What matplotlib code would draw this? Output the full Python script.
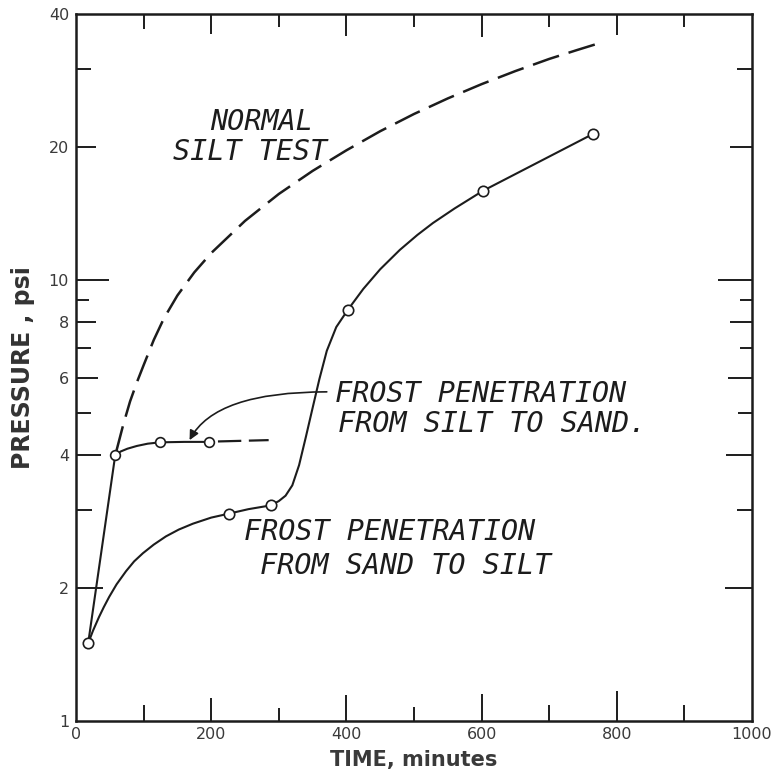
import matplotlib
matplotlib.use("Agg")
import matplotlib.pyplot as plt
from matplotlib.ticker import NullLocator

# --- data ---
# normal silt test (dashed curve)
normal_t = [59, 70, 80, 90, 100, 115, 130, 150, 175, 200, 250, 300, 350, 400, 450, 500, 550, 600, 650, 700, 740, 778]
normal_p = [4.05, 4.7, 5.3, 5.85, 6.4, 7.3, 8.17, 9.21, 10.39, 11.49, 13.59, 15.64, 17.64, 19.64, 21.7, 23.74, 25.75, 27.74, 29.7, 31.64, 33.1, 34.5]

# frost penetration from sand to silt: observations and drawn curve
sand_obs_t = [18, 226, 288, 402, 602, 765]
sand_obs_p = [1.50, 2.95, 3.08, 8.54, 15.9, 21.4]
sand_line_t = [18, 25, 34, 41, 49, 60, 74, 86, 99, 115, 133, 152, 173, 200, 226, 255, 288,
               300, 310, 320, 330, 340, 350, 360, 371, 385, 402,
               425, 450, 479, 505, 528, 560, 602, 765]
sand_line_p = [1.50, 1.60, 1.72, 1.81, 1.91, 2.04, 2.185, 2.30, 2.40, 2.51, 2.62, 2.715, 2.80, 2.89, 2.95, 3.02, 3.08,
               3.15, 3.24, 3.42, 3.80, 4.40, 5.12, 5.95, 6.90, 7.81, 8.54,
               9.53, 10.56, 11.68, 12.63, 13.44, 14.5, 15.9, 21.4]

# frost penetration from silt to sand
silt_obs_t = [58, 124, 197]
silt_obs_p = [4.0, 4.28, 4.29]
silt_line_t = [18, 58, 66, 76, 90, 106, 124, 160, 197]
silt_line_p = [1.50, 4.0, 4.08, 4.14, 4.2, 4.25, 4.28, 4.29, 4.29]
silt_ext_t = [210, 285]
silt_ext_p = [4.30, 4.33]

x_ticks = [0, 100, 200, 300, 400, 500, 600, 700, 800, 900, 1000]
x_labels = ['0', '', '200', '', '400', '', '600', '', '800', '', '1000']
y_ticks = [1, 2, 3, 4, 5, 6, 7, 8, 9, 10, 20, 30, 40]
y_labels = ['1', '2', '', '4', '', '6', '', '8', '', '10', '20', '', '40']

# tick lengths in pixels (they vary in the drawing)
bottom_len = [0, 16, 23, 13, 26, 14, 27, 16, 30, 16, 0]
top_len = [0, 15, 20, 13, 22, 13, 23, 13, 21, 13, 0]
left_len = [0, 27, 16, 25, 15, 22, 15, 20, 13, 33, 20, 15, 0]
right_len = [0, 27, 15, 26, 14, 24, 12, 22, 12, 34, 22, 15, 0]

ink = '#1c1c1c'
px = 0.72  # points per pixel at dpi 100

fig = plt.figure(figsize=(7.75, 7.77), dpi=100)
ax = fig.add_axes([76/775, 56/777, 676/775, 707/777])

ax.plot(normal_t, normal_p, color=ink, lw=1.8, dashes=(11, 4), solid_capstyle='butt')
ax.plot(sand_line_t, sand_line_p, color=ink, lw=1.5)
ax.plot(silt_line_t, silt_line_p, color=ink, lw=1.5)
ax.plot(silt_ext_t, silt_ext_p, color=ink, lw=1.6, dashes=(10.5, 3.4))
ax.plot(sand_obs_t, sand_obs_p, 'o', ms=7.5, mfc='white', mec=ink, mew=1.2, zorder=5)
ax.plot(silt_obs_t, silt_obs_p, 'o', ms=7.0, mfc='white', mec=ink, mew=1.2, zorder=5)

ax.annotate('', xy=(168, 4.33), xytext=(371, 5.57),
            arrowprops=dict(arrowstyle='-|>', connectionstyle='angle3,angleA=0,angleB=62',
                            color=ink, lw=1.2, shrinkA=0, shrinkB=0, mutation_scale=14))

lab = dict(family='DejaVu Sans Mono', style='oblique', fontsize=20.5, color=ink,
           ha='center', va='center')
ax.text(274, 22.8, 'NORMAL', **lab)
ax.text(257, 19.5, 'SILT TEST', **lab)
ax.text(598, 5.51, 'FROST PENETRATION', **lab)
ax.text(615, 4.72, 'FROM SILT TO SAND.', **lab)
ax.text(464, 2.675, 'FROST PENETRATION', **lab)
ax.text(487, 2.245, 'FROM SAND TO SILT', **lab)

ax.set_yscale('log')
ax.set_xlim(0, 1000)
ax.set_ylim(1, 40)
ax.set_xticks(x_ticks, x_labels)
ax.set_yticks(y_ticks, y_labels)
ax.xaxis.set_minor_locator(NullLocator())
ax.yaxis.set_minor_locator(NullLocator())

for s in ax.spines.values():
    s.set_linewidth(1.8)
    s.set_color(ink)

ax.tick_params(direction='in', top=True, right=True, width=1.4, color=ink,
               labelsize=11.5, labelcolor='#3a3a3a')
ax.tick_params(axis='x', pad=4)
ax.tick_params(axis='y', pad=5)

for t, a, b in zip(ax.xaxis.get_major_ticks(), bottom_len, top_len):
    t.tick1line.set_markersize(a * px)
    t.tick2line.set_markersize(b * px)
for t, a, b in zip(ax.yaxis.get_major_ticks(), left_len, right_len):
    t.tick1line.set_markersize(a * px)
    t.tick2line.set_markersize(b * px)

ax.set_xlabel('TIME, minutes', fontsize=15, fontweight='bold', color='#3a3a3a', labelpad=6)
ax.set_ylabel('PRESSURE , psi', fontsize=17, fontweight='bold', color='#333333', labelpad=10)

fig.savefig('out.png', dpi=100)
